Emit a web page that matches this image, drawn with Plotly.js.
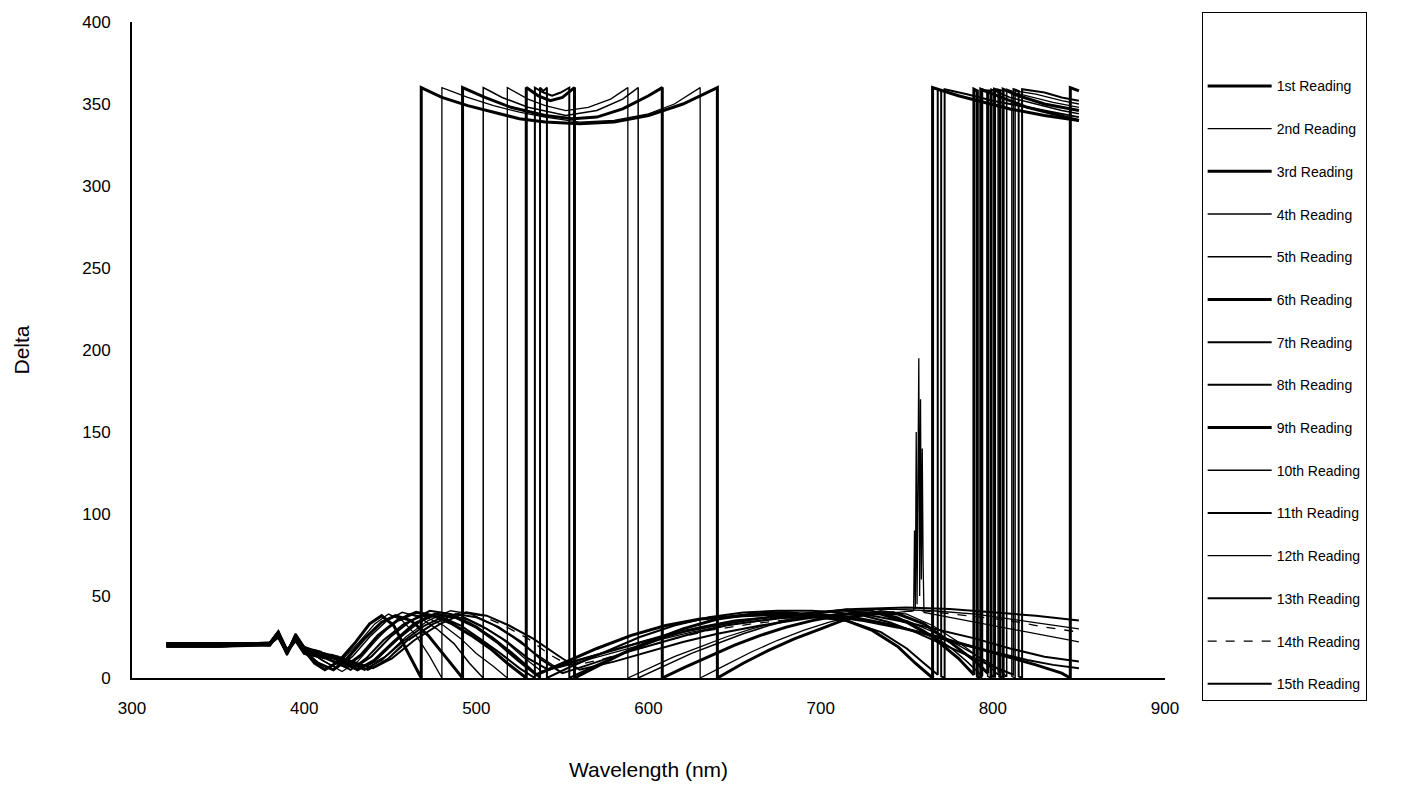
<!DOCTYPE html>
<html><head><meta charset="utf-8">
<script src="https://cdn.plot.ly/plotly-3.0.1.min.js"></script>
<style>html,body{margin:0;padding:0;background:#fff}#chart{width:1410px;height:787px}</style>
</head><body><div id="chart"></div>
<script>
const names = ["1st Reading","2nd Reading","3rd Reading","4th Reading","5th Reading","6th Reading","7th Reading","8th Reading","9th Reading","10th Reading","11th Reading","12th Reading","13th Reading","14th Reading","15th Reading"];

const wl1 = [320,350,380,385,390,395,400,406,412,420,430,438,445,452,460,468,468,480,495,510,525,540,560,580,600,620,640,640,655,670,685,700,715,730,745,760,775,790,797,797,799,799,801,801,804,804,806,806,815,830,850];
const d1  = [20,20,21,27,16,24,17,9,5,10,22,33,38,32,16,0,360,354,349,345,341,339,338,339,343,350,360,0,9,17,24,30,36,40,39,33,22,10,3,358,358,1,1,359,358,1,0,359,355,350,346];

const wl2 = [320,350,380,385,390,395,400,407,414,422,432,441,449,457,465,473,480,480,495,510,525,540,560,580,600,615,630,630,645,660,675,690,705,720,735,750,765,780,795,803,803,806,806,808,808,820,835,850];
const d2  = [19,19,20,25,15,26,18,10,6,11,22,33,39,35,26,13,0,360,354,349,345,342,339,340,344,350,360,0,8,16,23,29,34,38,41,39,32,22,10,2,359,358,1,1,358,355,351,348];

const wl3 = [320,350,380,385,390,395,400,408,417,425,435,445,453,462,472,482,492,492,505,520,540,556,570,585,600,608,608,620,635,650,665,680,695,710,720,735,750,765,780,789,789,791,791,793,793,805,820,835,850];
const d3  = [21,21,21,28,17,23,16,9,5,12,24,34,38,35,26,13,0,360,354,348,343,341,342,347,355,360,0,6,13,20,26,31,35,38,40,39,34,25,12,2,359,358,1,0,359,354,348,344,340];

const wl4 = [320,350,380,385,390,395,400,410,419,428,438,448,457,467,477,487,496,504,504,515,530,552,570,585,594,594,610,625,640,655,670,685,700,715,730,745,760,775,785,794,794,797,797,799,799,810,825,840,850];
const d4  = [20,20,20,26,14,25,19,11,6,13,25,35,40,37,30,21,9,0,360,354,348,343,346,353,360,0,8,15,21,27,32,36,40,42,41,37,29,19,10,1,359,358,1,0,359,354,350,346,344];

const wl5 = [320,350,380,385,390,395,400,412,422,431,441,451,461,471,481,491,500,510,518,518,530,540,552,565,578,588,588,600,615,630,645,660,675,690,710,730,750,770,785,800,808,808,811,811,813,813,825,840,850];
const d5  = [20,20,22,29,17,25,18,10,4,10,22,33,39,37,32,24,15,7,0,360,353,349,346,348,353,360,0,6,13,19,25,30,34,38,41,40,35,26,17,8,1,359,358,1,0,358,356,352,350];

const wl6 = [320,350,380,385,390,395,400,413,424,433,443,454,465,475,486,497,508,518,529,529,536,543,550,557,557,570,585,600,620,640,660,680,700,715,730,745,755,765,765,780,795,810,830,850];
const d6  = [21,21,20,27,16,23,15,12,7,14,26,35,40,38,33,26,18,9,0,360,355,352,354,360,0,7,15,22,30,36,39,40,38,35,29,19,9,0,360,355,351,347,343,340];

const wl7 = [320,350,380,385,390,395,400,415,427,436,446,458,469,480,491,502,514,525,534,534,539,544,549,554,554,570,590,610,630,650,670,695,715,735,750,760,768,768,770,770,772,772,785,800,815,830,850];
const d7  = [19,19,21,26,15,27,19,11,5,12,23,33,38,37,32,24,15,6,0,360,357,355,357,360,0,8,17,25,31,35,37,37,35,28,18,9,2,359,358,1,0,359,356,352,349,346,342];

const wl8 = [320,350,380,385,390,395,400,417,429,439,450,462,473,485,497,509,520,530,537,537,539,541,541,555,575,595,615,635,655,675,695,710,725,740,755,770,785,800,812,812,815,815,817,817,830,840,850];
const d8  = [20,20,21,28,17,24,16,12,6,13,25,35,41,39,33,25,16,7,0,360,358,360,0,7,16,25,32,37,40,41,41,40,38,34,28,21,14,7,2,359,358,1,0,359,357,354,352];

const wl9 = [320,350,380,385,390,395,400,418,431,441,452,464,476,488,500,512,524,535,550,570,590,610,630,655,680,705,725,745,765,785,805,825,840,845,845,850];
const d9  = [21,21,21,25,15,26,18,12,5,11,22,33,39,37,31,22,11,2,9,18,26,32,36,38,39,38,35,31,26,20,14,8,3,0,360,358];

const wl10 = [320,350,380,385,390,395,400,420,433,443,455,467,479,491,503,515,527,538,555,575,595,615,635,660,685,710,740,765,790,810,830,850];
const d10  = [20,20,20,27,16,25,17,11,6,12,24,34,40,38,32,24,13,4,10,16,22,28,32,36,39,41,42,41,39,36,33,30];

const wl11 = [320,350,380,385,390,395,400,421,435,445,457,470,482,494,506,518,530,542,560,580,600,620,645,670,695,720,750,775,800,825,850];
const d11  = [19,19,20,26,14,24,19,12,5,11,22,32,38,36,30,22,12,5,11,17,23,28,33,37,40,42,43,42,40,38,35];

const wl12 = [320,350,380,385,390,395,400,422,436,447,459,472,485,497,509,521,534,547,565,585,605,625,650,675,700,725,745,754,754.5,755,755.5,756,756.5,757,757.5,758,758.5,759,759.5,760,775,795,815,835,850];
const d12  = [21,21,21,28,17,23,16,11,7,13,25,35,41,39,33,25,15,6,11,17,23,28,33,36,38,40,40,41,90,42,150,45,120,195,50,170,60,140,70,40,37,33,29,25,22];

const wl13 = [320,350,380,385,390,395,400,423,437,448,460,475,488,500,513,526,538,550,565,585,605,625,645,665,685,700,720,740,760,780,800,820,835,850];
const d13  = [20,20,21,25,16,26,18,12,5,11,23,33,39,37,31,22,11,3,8,15,21,27,32,35,38,39,37,33,27,21,16,11,8,6];

const wl14 = [320,350,380,385,390,395,400,424,438,449,462,477,491,503,516,530,543,555,575,595,615,635,660,685,710,735,760,785,810,830,850];
const d14  = [20,20,20,27,15,25,19,12,6,12,24,34,40,38,32,24,14,7,12,18,24,29,33,36,38,40,41,38,35,31,28];

const wl15 = [320,350,380,385,390,395,400,425,440,451,464,479,494,506,519,533,547,560,580,600,620,640,665,690,710,730,750,770,790,810,830,850];
const d15  = [21,21,20,26,17,24,16,11,6,12,23,33,40,38,32,24,14,5,10,16,22,27,32,36,39,38,34,29,24,18,13,10];

const xTicks = [300,400,500,600,700,800,900];
const yTicks = [0,50,100,150,200,250,300,350,400];

const wls = [wl1,wl2,wl3,wl4,wl5,wl6,wl7,wl8,wl9,wl10,wl11,wl12,wl13,wl14,wl15];
const ds  = [d1,d2,d3,d4,d5,d6,d7,d8,d9,d10,d11,d12,d13,d14,d15];

// styles (kept separate from data)
const lineWidths = [3,1.3,3,1.5,1.3,3,2,2,3,1.3,2,1.3,2,1.3,2];
const lineDashes = ['solid','solid','solid','solid','solid','solid','solid','solid','solid','solid','solid','solid','solid','dash','solid'];

const traces = names.map((n,i)=>({
  type:'scatter', mode:'lines', x:wls[i], y:ds[i], name:n,
  legendgroup:'g'+i,
  line:{color:'#000', width:lineWidths[i], dash:lineDashes[i]},
  hoverinfo:'skip'
}));

const fnt = 'Liberation Sans, Arial, sans-serif';
const layout = {
  width:1410, height:787,
  margin:{l:132, r:245, t:22, b:109},
  paper_bgcolor:'#fff', plot_bgcolor:'#fff',
  font:{family:fnt, color:'#000'},
  showlegend:true,
  xaxis:{range:[300,900], tickvals:xTicks, ticktext:xTicks.map(String), showgrid:false, zeroline:false,
    showline:true, linecolor:'#000', linewidth:2, ticks:'', ticklabelstandoff:14,
    tickfont:{family:fnt, size:17, color:'#000'},
    title:{text:'Wavelength (nm)', font:{family:fnt, size:21, color:'#000'}, standoff:45}, automargin:false},
  yaxis:{range:[0,400], tickvals:yTicks, ticktext:yTicks.map(String), showgrid:false, zeroline:false,
    showline:true, linecolor:'#000', linewidth:2, ticks:'', ticklabelstandoff:16,
    tickfont:{family:fnt, size:17, color:'#000'},
    title:{text:'Delta', font:{family:fnt, size:21, color:'#000'}, standoff:47}, automargin:false},
  legend:{x:1.0355, xanchor:'left', y:1.015, yanchor:'top', bgcolor:'#fff', bordercolor:'#000', borderwidth:1,
    font:{family:fnt, size:14, color:'#000'}, tracegroupgap:21.5, itemwidth:64, traceorder:'grouped',
    maxheight:760,
    title:{text:'\u00a0', font:{size:44}}}
};
Plotly.newPlot('chart', traces, layout, {displayModeBar:false, staticPlot:true});
</script></body></html>
